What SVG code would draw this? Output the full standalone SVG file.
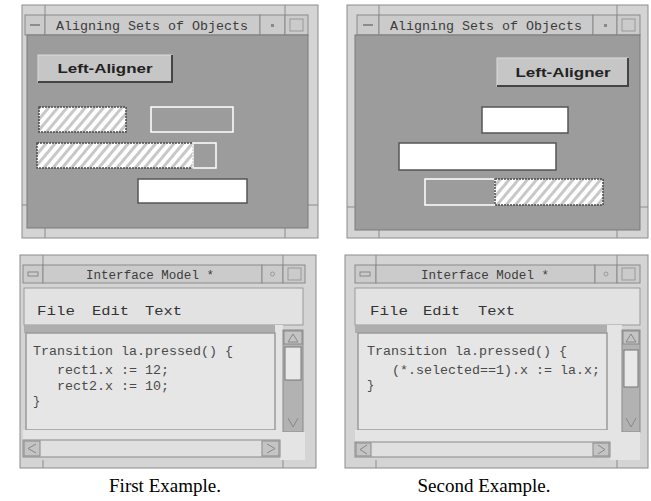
<svg xmlns="http://www.w3.org/2000/svg" width="651" height="501" viewBox="0 0 651 501">
<style>
.frame{fill:#d4d4d4;stroke:#8c8c8c;stroke-width:1}
.tb{fill:#cbcbcb;stroke:#8a8a8a;stroke-width:1}
.content{fill:#9c9c9c;stroke:#7a7a7a;stroke-width:1}
.mono{font-family:"Liberation Mono","DejaVu Sans Mono",monospace;fill:#3c3c3c}
.title{font-size:12.5px}
.code{font-size:12px;fill:#4a4a4a}
.menu{font-size:13px;fill:#333}
.btn{fill:#c6c6c6;stroke:#dcdcdc;stroke-width:1}
.btntxt{font-family:"Liberation Sans","DejaVu Sans",sans-serif;font-weight:bold;font-size:13px;fill:#222}
.hatch{fill:url(#hatch);stroke:#4a4a4a;stroke-width:1.5;stroke-dasharray:2 1}
.outline{fill:none;stroke:#ffffff;stroke-width:1.5}
.white{fill:#ffffff;stroke:#555;stroke-width:1.5}
.menubar{fill:#e2e2e2;stroke:#9a9a9a;stroke-width:1}
.strip{fill:#aeaeae}
.textarea{fill:#e6e6e6;stroke:#9a9a9a;stroke-width:1.5}
.trough{fill:#b2b2b2;stroke:#8a8a8a;stroke-width:1}
.thumb{fill:#e8e8e8;stroke:#777;stroke-width:1}
.arrowbox{fill:#c4c4c4;stroke:#8a8a8a;stroke-width:1}
.light{fill:#e4e4e4}
.caption{font-family:"Liberation Serif","Times New Roman",serif;font-size:19px;fill:#000}
.notch{stroke:#8c8c8c;stroke-width:1}
</style>
<defs>
<pattern id="hatch" patternUnits="userSpaceOnUse" width="7" height="7" patternTransform="rotate(40)">
<rect width="7" height="7" fill="#ffffff"/>
<rect width="3" height="7" fill="#c8c8c8"/>
</pattern>
</defs>
<rect width="651" height="501" fill="#ffffff"/>

<!-- Top-left window -->
<g id="align-window-1">
<rect class="frame" x="22" y="5" width="296" height="233"/>
<line class="notch" x1="45" y1="5" x2="45" y2="15"/>
<line class="notch" x1="285" y1="5" x2="285" y2="15"/>
<rect class="tb" x="25" y="15" width="20" height="20"/>
<line x1="30" y1="25" x2="40" y2="25" stroke="#777" stroke-width="1.5"/>
<rect class="tb" x="45" y="15" width="215" height="20"/>
<text class="mono title" x="152" y="30" text-anchor="middle" textLength="192" lengthAdjust="spacingAndGlyphs">Aligning Sets of Objects</text>
<rect class="tb" x="260" y="15" width="25" height="20"/>
<rect x="271" y="24" width="3" height="3" fill="#888"/>
<rect class="tb" x="285" y="15" width="23" height="20"/>
<rect x="290" y="19" width="13" height="12" fill="none" stroke="#999"/>
<rect class="content" x="27" y="35" width="281" height="193"/>
<line class="notch" x1="22" y1="205" x2="27" y2="205"/>
<line class="notch" x1="308" y1="205" x2="318" y2="205"/>
<line class="notch" x1="45" y1="228" x2="45" y2="238"/>
<line class="notch" x1="285" y1="228" x2="285" y2="238"/>
<g id="btn-1">
<rect class="btn" x="38" y="55" width="134" height="27"/>
<line x1="38" y1="82" x2="173" y2="82" stroke="#444" stroke-width="2"/>
<line x1="172" y1="55" x2="172" y2="82" stroke="#444" stroke-width="2"/>
<text class="btntxt" x="105" y="73" text-anchor="middle" textLength="95" lengthAdjust="spacingAndGlyphs">Left-Aligner</text>
</g>
<rect class="hatch" x="39" y="107" width="87" height="25"/>
<rect class="outline" x="151" y="107" width="82" height="25"/>
<rect class="hatch" x="37" y="143" width="156" height="25"/>
<rect class="outline" x="193" y="143" width="23" height="25"/>
<rect class="white" x="138" y="179" width="109" height="24"/>
</g>

<!-- Top-right window -->
<g id="align-window-2">
<rect class="frame" x="347" y="5" width="301" height="233"/>
<line class="notch" x1="379" y1="5" x2="379" y2="15"/>
<line class="notch" x1="617" y1="5" x2="617" y2="15"/>
<rect class="tb" x="357" y="15" width="22" height="20"/>
<line x1="363" y1="25" x2="373" y2="25" stroke="#777" stroke-width="1.5"/>
<rect class="tb" x="379" y="15" width="214" height="20"/>
<text class="mono title" x="486" y="30" text-anchor="middle" textLength="192" lengthAdjust="spacingAndGlyphs">Aligning Sets of Objects</text>
<rect class="tb" x="593" y="15" width="24" height="20"/>
<rect x="604" y="24" width="3" height="3" fill="#888"/>
<rect class="tb" x="617" y="15" width="23" height="20"/>
<rect x="622" y="19" width="13" height="12" fill="none" stroke="#999"/>
<rect class="content" x="355" y="35" width="285" height="195"/>
<line class="notch" x1="347" y1="207" x2="355" y2="207"/>
<line class="notch" x1="640" y1="207" x2="648" y2="207"/>
<line class="notch" x1="379" y1="230" x2="379" y2="238"/>
<line class="notch" x1="617" y1="230" x2="617" y2="238"/>
<g id="btn-2">
<rect class="btn" x="497" y="58" width="131" height="28"/>
<line x1="497" y1="86" x2="629" y2="86" stroke="#444" stroke-width="2"/>
<line x1="628" y1="58" x2="628" y2="86" stroke="#444" stroke-width="2"/>
<text class="btntxt" x="563" y="77" text-anchor="middle" textLength="95" lengthAdjust="spacingAndGlyphs">Left-Aligner</text>
</g>
<rect class="white" x="482" y="107" width="86" height="26"/>
<rect class="white" x="399" y="143" width="157" height="27"/>
<rect class="outline" x="425" y="179" width="70" height="26"/>
<rect class="hatch" x="495" y="179" width="108" height="26"/>
</g>

<!-- Bottom-left window -->
<g id="model-window-1">
<rect class="frame" x="20" y="255" width="296" height="213"/>
<line class="notch" x1="43" y1="255" x2="43" y2="265"/>
<line class="notch" x1="283" y1="255" x2="283" y2="265"/>
<rect class="tb" x="23" y="265" width="20" height="18"/>
<rect x="28" y="272" width="10" height="4" fill="none" stroke="#888"/>
<rect class="tb" x="43" y="265" width="219" height="18"/>
<text class="mono title" x="150" y="279" text-anchor="middle" textLength="128" lengthAdjust="spacingAndGlyphs">Interface Model *</text>
<rect class="tb" x="262" y="265" width="21" height="18"/>
<circle cx="272.5" cy="274" r="2" fill="none" stroke="#999"/>
<rect class="tb" x="283" y="265" width="22" height="18"/>
<rect x="288" y="268" width="13" height="12" fill="none" stroke="#999"/>
<rect class="menubar" x="24" y="288" width="279" height="37"/>
<text class="mono menu" x="37" y="315" textLength="38" lengthAdjust="spacingAndGlyphs">File</text>
<text class="mono menu" x="92" y="315" textLength="37" lengthAdjust="spacingAndGlyphs">Edit</text>
<text class="mono menu" x="145" y="315" textLength="37" lengthAdjust="spacingAndGlyphs">Text</text>
<rect class="strip" x="24" y="325" width="255" height="8"/>
<rect class="light" x="275" y="325" width="8" height="115"/>
<rect class="textarea" x="26" y="333" width="249" height="97"/>
<text class="mono code" x="33" y="355" textLength="200" lengthAdjust="spacingAndGlyphs">Transition la.pressed() {</text>
<text class="mono code" x="57" y="374" textLength="112" lengthAdjust="spacingAndGlyphs">rect1.x := 12;</text>
<text class="mono code" x="57" y="390" textLength="112" lengthAdjust="spacingAndGlyphs">rect2.x := 10;</text>
<text class="mono code" x="33" y="405">}</text>
<rect class="trough" x="283" y="330" width="20" height="102"/>
<rect class="arrowbox" x="284" y="331" width="18" height="13"/>
<path d="M288 342 L293 334 L298 342 Z" fill="none" stroke="#888"/>
<rect class="thumb" x="285" y="347" width="16" height="33"/>
<path d="M288 418 L293 427 L298 418" fill="none" stroke="#888"/>
<rect class="light" x="280" y="432" width="25" height="28"/>
<rect class="light" x="23" y="430" width="257" height="10"/>
<rect class="trough" x="23" y="440" width="257" height="17" style="fill:#e0e0e0"/>
<rect class="arrowbox" x="24" y="441" width="16" height="15"/>
<path d="M36 444 L28 448.5 L36 453" fill="none" stroke="#888"/>
<rect class="arrowbox" x="262" y="441" width="17" height="15"/>
<path d="M267 444 L275 448.5 L267 453" fill="none" stroke="#888"/>
<line class="notch" x1="43" y1="460" x2="43" y2="468"/>
<line class="notch" x1="283" y1="460" x2="283" y2="468"/>
</g>

<!-- Bottom-right window -->
<g id="model-window-2">
<rect class="frame" x="345" y="255" width="303" height="213"/>
<line class="notch" x1="376" y1="255" x2="376" y2="265"/>
<line class="notch" x1="617" y1="255" x2="617" y2="265"/>
<rect class="tb" x="355" y="265" width="21" height="18"/>
<rect x="360" y="272" width="10" height="4" fill="none" stroke="#888"/>
<rect class="tb" x="376" y="265" width="219" height="18"/>
<text class="mono title" x="485" y="279" text-anchor="middle" textLength="128" lengthAdjust="spacingAndGlyphs">Interface Model *</text>
<rect class="tb" x="595" y="265" width="22" height="18"/>
<circle cx="606" cy="274" r="2" fill="none" stroke="#999"/>
<rect class="tb" x="617" y="265" width="23" height="18"/>
<rect x="622" y="268" width="13" height="12" fill="none" stroke="#999"/>
<rect class="menubar" x="355" y="288" width="285" height="37"/>
<text class="mono menu" x="370" y="315" textLength="38" lengthAdjust="spacingAndGlyphs">File</text>
<text class="mono menu" x="423" y="315" textLength="37" lengthAdjust="spacingAndGlyphs">Edit</text>
<text class="mono menu" x="478" y="315" textLength="37" lengthAdjust="spacingAndGlyphs">Text</text>
<rect class="strip" x="355" y="325" width="260" height="8"/>
<rect class="light" x="607" y="325" width="15" height="115"/>
<rect class="textarea" x="358" y="333" width="249" height="97"/>
<text class="mono code" x="367" y="355" textLength="200" lengthAdjust="spacingAndGlyphs">Transition la.pressed() {</text>
<text class="mono code" x="392" y="374" textLength="208" lengthAdjust="spacingAndGlyphs">(*.selected==1).x := la.x;</text>
<text class="mono code" x="367" y="389">}</text>
<rect class="trough" x="622" y="330" width="18" height="102"/>
<rect class="arrowbox" x="623" y="331" width="16" height="13"/>
<path d="M626 342 L631 334 L636 342 Z" fill="none" stroke="#888"/>
<rect class="thumb" x="624" y="350" width="14" height="37"/>
<path d="M626 418 L631 427 L636 418" fill="none" stroke="#888"/>
<rect class="light" x="610" y="432" width="30" height="28"/>
<rect class="light" x="355" y="430" width="255" height="12"/>
<rect class="trough" x="355" y="442" width="255" height="15" style="fill:#e0e0e0"/>
<rect class="arrowbox" x="356" y="443" width="15" height="13"/>
<path d="M367 445 L360 449.5 L367 454" fill="none" stroke="#888"/>
<rect class="arrowbox" x="593" y="443" width="16" height="13"/>
<path d="M598 445 L605 449.5 L598 454" fill="none" stroke="#888"/>
<line class="notch" x1="376" y1="460" x2="376" y2="468"/>
<line class="notch" x1="617" y1="460" x2="617" y2="468"/>
</g>

<text class="caption" x="165" y="492" text-anchor="middle">First Example.</text>
<text class="caption" x="484" y="492" text-anchor="middle">Second Example.</text>
</svg>
